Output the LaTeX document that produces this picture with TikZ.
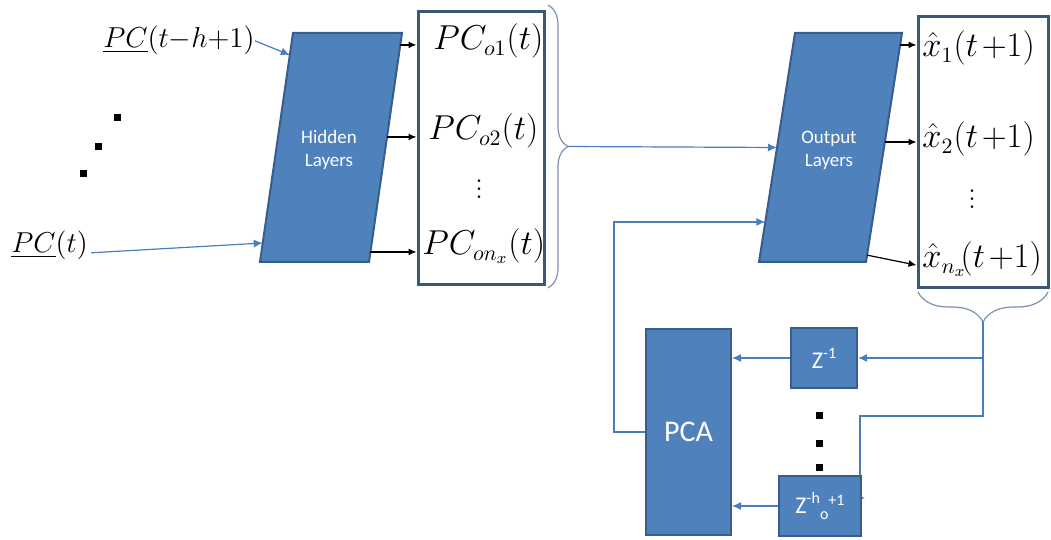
\documentclass[tikz,border=0pt]{standalone}
\usepackage{amsmath,amssymb}
\usepackage{fontspec}
\newfontfamily\calibri{Carlito}
\usetikzlibrary{arrows.meta,positioning,calc,decorations.pathreplacing,backgrounds}
\definecolor{boxblue}{RGB}{79,129,189}
\definecolor{boxedge}{RGB}{56,93,138}
\definecolor{linkblue}{RGB}{74,126,187}
\definecolor{frameblue}{RGB}{60,88,120}
\definecolor{bracegray}{RGB}{125,145,170}
\tikzset{%
	layerfill/.style={draw=boxedge, line width=1pt, fill=boxblue},
	layertext/.style={inner sep=0pt, text=white, align=center, font=\calibri\fontsize{9.5}{11.5}\selectfont},
	blocknode/.style={rectangle, draw=boxedge, line width=1pt, fill=boxblue, text=white, inner sep=0pt, font=\calibri\fontsize{12}{14}\selectfont},
	framenode/.style={rectangle, draw=frameblue, line width=1.5pt, fill=white, inner sep=0pt},
	dotnode/.style={rectangle, fill=black, minimum size=3.5pt, inner sep=0pt},
	labnode/.style={inner sep=0pt, anchor=base west, font=\fontsize{16}{19}\selectfont},
	inlab/.style={inner sep=0pt, anchor=base west, font=\fontsize{14}{17}\selectfont},
	pt/.style={draw=linkblue, line width=0.6pt, -{Latex[length=4.5pt,width=4pt]}},
	ot/.style={draw=black, line width=0.6pt, -{Latex[length=4pt,width=3.5pt]}},
	brc/.style={draw=bracegray, line width=0.6pt, decorate, decoration={brace, amplitude=#1}}
}

\begin{document}
\begin{tikzpicture}[x=0.5pt,y=-0.5pt]
	\useasboundingbox (0,0) rectangle (1051,540);

	% layers (slanted) and frames
	\coordinate (hidTL) at (293,33);
	\coordinate (hidTR) at (402,33);
	\coordinate (hidBR) at (369,262);
	\coordinate (hidBL) at (260,262);
	\draw[layerfill] (hidTL) -- (hidTR) -- (hidBR) -- (hidBL) -- cycle;
	\node[layertext] (hid) at (329,150) {Hidden\\Layers};

	\coordinate (outTL) at (795,33);
	\coordinate (outTR) at (902,33);
	\coordinate (outBR) at (866,262);
	\coordinate (outBL) at (759,262);
	\draw[layerfill] (outTL) -- (outTR) -- (outBR) -- (outBL) -- cycle;
	\node[layertext] (outl) at (829,150) {Output\\Layers};

	\node[framenode, minimum width=63pt, minimum height=136.5pt] (pcbox) at (481,148.5) {};
	\node[framenode, minimum width=65pt, minimum height=135.5pt] (xbox) at (983,152.5) {};

	\node[labnode] (pco1) at (433,50) {$PC_{o1}(t)$};
	\node[labnode] (pco2) at (428,140) {$PC_{o2}(t)$};
	\node[labnode, anchor=center] (pcdots) at (479,183) {$\vdots$};
	\node[labnode] (pcon) at (422,255) {$PC_{on_x}(t)$};

	\node[labnode] (xh1) at (922,57) {$\hat{x}_1(t\mkern2mu{+}1)$};
	\node[labnode] (xh2) at (922,148) {$\hat{x}_2(t\mkern2mu{+}1)$};
	\node[labnode, anchor=center] (xdots) at (972,193) {$\vdots$};
	\node[labnode] (xhn) at (922,268) {$\hat{x}_{n_x}\!(t\mkern2mu{+}1)$};

	% inputs
	\node[inlab] (pcin1) at (103,48) {$\underline{PC}(t{-}h{+}1)$};
	\node[inlab] (pcin2) at (11,253) {$\underline{PC}(t)$};
	\foreach \n/\x/\y in {1/117/118, 2/98/147, 3/83/174}
		\node[dotnode] (ld\n) at (\x,\y) {};

	% feedback part
	\node[blocknode, minimum width=42.5pt, minimum height=103pt, font=\calibri\fontsize{15}{18}\selectfont] (pca) at (688.5,432) {PCA};
	\node[blocknode, minimum width=33pt, minimum height=30pt] (zm1) at (824,358) {Z\raisebox{5pt}{\fontsize{8}{9}\selectfont -1}};
	\node[blocknode, minimum width=41pt, minimum height=30pt] (zh) at (820,506) {Z\raisebox{5pt}{\fontsize{8}{9}\selectfont -h}\raisebox{-3pt}{\fontsize{8}{9}\selectfont o}\raisebox{4pt}{\fontsize{8}{9}\selectfont +1}};
	\foreach \n/\y in {1/415, 2/443, 3/467}
		\node[dotnode] (zd\n) at (819,\y) {};

	% braces
	\coordinate (b1top) at (548,5);
	\coordinate (b1bot) at (548,288);
	\coordinate (b1tip) at (568,146.5);
	\draw[brc=10pt] (b1top) -- (b1bot);
	\coordinate (b2r) at (1048,292);
	\coordinate (b2l) at (918,292);
	\coordinate (b2tip) at (983,322);
	\draw[brc=15pt] (b2r) -- (b2l);

	% connectors
	\coordinate (hin1) at ($(hidTL)!0.096!(hidBL)$);
	\coordinate (hin2) at ($(hidTL)!0.917!(hidBL)$);
	\path (pcin1.east) edge[pt] (hin1);
	\path ($(pcin2.east)+(3,7)$) edge[pt] (hin2);

	\coordinate (h1) at ($(hidTR)!0.052!(hidBR)$);
	\coordinate (h2) at ($(hidTR)!0.454!(hidBR)$);
	\coordinate (h3) at ($(hidTR)!0.956!(hidBR)$);
	\foreach \c in {h1,h2,h3}
		\draw[ot] (\c) -- (\c -| pcbox.west);

	\coordinate (o1) at ($(outTR)!0.052!(outBR)$);
	\coordinate (o2) at ($(outTR)!0.476!(outBR)$);
	\coordinate (o3) at ($(outTR)!0.97!(outBR)$);
	\draw[ot] (o1) -- (o1 -| xbox.west);
	\draw[ot] (o2) -- (o2 -| xbox.west);
	\draw[ot] (o3) -- ($(o3 -| xbox.west)+(0,10)$);

	\coordinate (oin1) at ($(outTL)!0.5!(outBL)$);
	\path (b1tip) edge[pt] (oin1);
	\coordinate (oin2) at ($(outTL)!0.825!(outBL)$);
	\draw[pt] (pca.west) -- ++(-31,0) |- (oin2);

	\coordinate (split) at (b2tip |- zm1.east);
	\draw[pt] (b2tip) |- (zm1.east);
	\coordinate (bend) at ($(zh.north east)+(-2,-59)$);
	\coordinate (zhin) at ($(zh.east)+(3,-8)$);
	\begin{scope}[on background layer]
		\draw[pt] (split) |- (bend) |- (zhin);
	\end{scope}
	\path (zm1.west) edge[pt] (zm1.west -| pca.east);
	\path (zh.west) edge[pt] (zh.west -| pca.east);
\end{tikzpicture}
\end{document}
